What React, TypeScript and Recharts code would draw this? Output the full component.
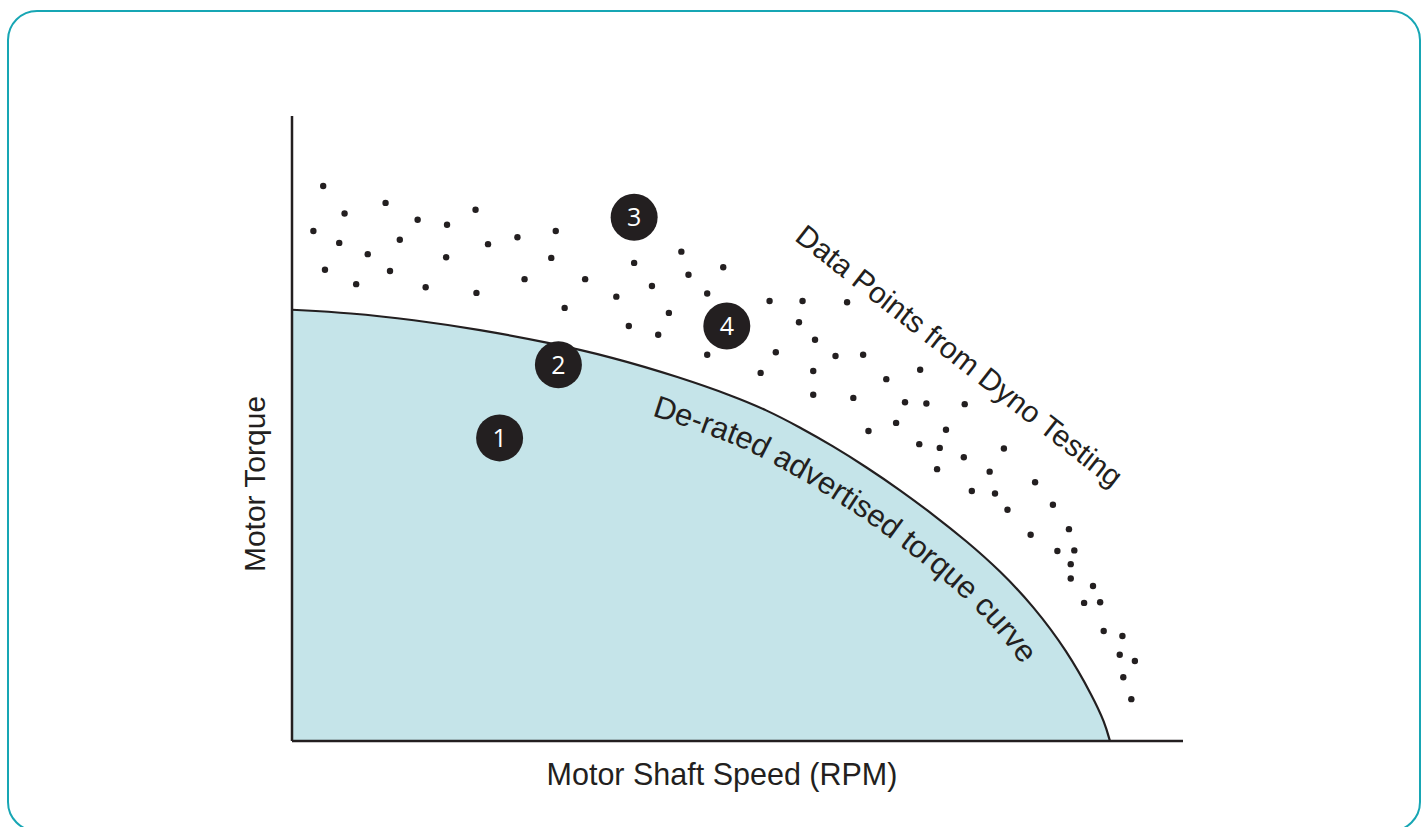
import React from 'react';
import { ComposedChart, Area, Scatter, XAxis, YAxis } from 'recharts';

// de-rated advertised torque curve (speed %, torque %)
const curveSpeed = [
  0, 6.5, 13.6, 21.1, 28.6, 36.0, 43.5, 49.5, 53.2, 57.0, 60.7,
  64.5, 68.2, 71.9, 75.7, 79.5, 83.2, 87.0, 89.9, 91.2, 91.8,
];
const curveTorque = [
  69.0, 68.5, 67.4, 65.8, 63.8, 61.4, 58.2, 55.2, 53.0, 50.2, 47.2,
  43.8, 40.2, 36.3, 32.0, 27.2, 21.6, 14.4, 7.0, 3.0, 0,
];

// dyno test points
const dynoSpeed = [
  3.5, 5.9, 10.5, 2.4, 5.3, 14.1, 17.4, 20.6, 12.1, 8.5, 3.7, 11.0, 7.2, 15.0, 17.3, 22.0, 25.3,
  29.6, 29.1, 26.1, 20.7, 32.9, 30.6, 38.4, 36.4, 40.4, 43.7, 44.5, 48.4, 46.6, 42.3, 37.8, 41.1,
  46.6, 53.6, 57.3, 62.3, 56.9, 58.7, 54.3, 61.0, 64.1, 52.6, 58.5, 70.5, 66.7, 58.5, 63.0, 68.8,
  71.2, 75.5, 67.8, 64.7, 73.4, 70.4, 72.7, 79.9, 75.4, 72.4, 78.3, 83.4, 76.3, 78.9, 80.3, 85.4,
  87.2, 82.9, 85.9, 87.8, 87.4, 87.4, 89.9, 88.9, 90.7, 91.1, 93.2, 92.9, 94.6, 93.3, 94.2,
];
const dynoTorque = [
  88.8, 84.4, 86.1, 81.6, 79.7, 83.4, 82.6, 85.0, 80.2, 77.9, 75.4, 75.2, 73.1, 72.6, 77.4, 79.5, 80.6,
  81.6, 77.3, 73.9, 71.7, 73.9, 69.3, 76.5, 71.1, 72.8, 78.3, 74.6, 75.8, 71.6, 68.5, 66.4, 65.0,
  61.8, 70.4, 70.4, 70.2, 67.0, 64.2, 62.2, 61.6, 61.8, 58.9, 59.2, 59.4, 57.9, 55.4, 54.9, 54.2,
  54.0, 53.9, 50.9, 49.6, 49.8, 47.5, 46.9, 46.8, 45.4, 43.5, 43.1, 41.4, 40.0, 39.6, 37.0, 37.8,
  33.9, 33.0, 30.4, 30.5, 28.3, 26.0, 24.8, 22.1, 22.2, 17.6, 16.8, 13.8, 12.8, 10.2, 6.7,
];

// numbered callouts
const markerIds = ['1', '2', '3', '4'];
const markerSpeed = [23.3, 29.9, 38.4, 48.8];
const markerTorque = [48.5, 60.2, 83.8, 66.4];

const W = 1427;
const H = 827;
const M = { top: 116, right: 244, bottom: 85, left: 291 };
const plotLeft = M.left + 1;
const plotW = W - plotLeft - M.right;
const plotH = H - M.top - M.bottom - 1;
const ink = '#231f20';
const font = '"Liberation Sans", Arial, Helvetica, sans-serif';

const toPx = (x: number) => plotLeft + (x / 100) * plotW;
const toPy = (y: number) => M.top + (1 - y / 100) * plotH;

const curveData = curveSpeed.map((x, i) => ({ x, y: curveTorque[i] }));
const dynoData = dynoSpeed.map((x, i) => ({ x, y: dynoTorque[i] }));
const markerData = markerSpeed.map((x, i) => ({ x, y: markerTorque[i], id: markerIds[i] }));

// path running parallel to the curve, on the inside, for the curved label
function labelPath(dist: number) {
  const pts = curveData.map((d) => [toPx(d.x), toPy(d.y)]);
  const off = pts.map((p, i) => {
    const a = pts[Math.max(0, i - 1)];
    const b = pts[Math.min(pts.length - 1, i + 1)];
    let tx = b[0] - a[0];
    let ty = b[1] - a[1];
    const l = Math.hypot(tx, ty);
    tx /= l;
    ty /= l;
    return [p[0] - ty * dist, p[1] + tx * dist];
  });
  let d = `M${off[0][0]},${off[0][1]}`;
  for (let i = 0; i < off.length - 1; i++) {
    const p0 = off[i - 1] || off[i];
    const p1 = off[i];
    const p2 = off[i + 1];
    const p3 = off[i + 2] || p2;
    const c1 = [p1[0] + (p2[0] - p0[0]) / 6, p1[1] + (p2[1] - p0[1]) / 6];
    const c2 = [p2[0] - (p3[0] - p1[0]) / 6, p2[1] - (p3[1] - p1[1]) / 6];
    d += ` C${c1[0]},${c1[1]} ${c2[0]},${c2[1]} ${p2[0]},${p2[1]}`;
  }
  return d;
}

const Dot = (props: any) => <circle cx={props.cx} cy={props.cy} r={3.2} fill={ink} />;

const Badge = (props: any) => (
  <g>
    <circle cx={props.cx} cy={props.cy} r={23.5} fill={ink} />
    <text
      x={props.cx}
      y={props.cy}
      dy={9}
      textAnchor="middle"
      fill="#fff"
      fontSize={25}
      fontFamily='"Open Sans", sans-serif'
    >
      {props.payload.id}
    </text>
  </g>
);

export default function App() {
  return (
    <div style={{ position: 'fixed', left: 0, top: 0, width: W, height: H, background: '#fff', overflow: 'hidden' }}>
      <div
        style={{
          position: 'absolute',
          left: 7,
          top: 10,
          width: 1414,
          height: 822,
          boxSizing: 'border-box',
          border: '2.5px solid #17a6b4',
          borderRadius: 30,
        }}
      />
      <div style={{ position: 'absolute', left: 0, top: 0 }}>
        <ComposedChart width={W} height={H} data={curveData} margin={M}>
          <Area
            type="basis"
            dataKey="y"
            fill="#c5e4e9"
            fillOpacity={1}
            stroke={ink}
            strokeWidth={2.2}
            dot={false}
            activeDot={false}
            isAnimationActive={false}
          />
          <XAxis
            type="number"
            dataKey="x"
            domain={[0, 100]}
            tick={false}
            tickLine={false}
            height={1}
            axisLine={{ stroke: ink, strokeWidth: 2.5 }}
          />
          <YAxis
            type="number"
            dataKey="y"
            domain={[0, 100]}
            tick={false}
            tickLine={false}
            width={1}
            axisLine={{ stroke: ink, strokeWidth: 2.5 }}
          />
          <Scatter data={dynoData} shape={Dot} isAnimationActive={false} />
          <Scatter data={markerData} shape={Badge} isAnimationActive={false} />
        </ComposedChart>
      </div>
      <svg
        width={W}
        height={H}
        style={{ position: 'absolute', left: 0, top: 0, pointerEvents: 'none', fontFamily: font }}
        fill={ink}
      >
        <defs>
          <path id="curveLabel" d={labelPath(45)} fill="none" />
        </defs>
        <text fontSize={31}>
          <textPath href="#curveLabel" startOffset={368}>
            De-rated advertised torque curve
          </textPath>
        </text>
        <text x={953} y={364} fontSize={30} textAnchor="middle" transform="rotate(38 953 364)">
          Data Points from Dyno Testing
        </text>
        <text x={265} y={484} fontSize={30} textAnchor="middle" transform="rotate(-90 265 484)">
          Motor Torque
        </text>
        <text x={722} y={785} fontSize={30.5} textAnchor="middle">
          Motor Shaft Speed (RPM)
        </text>
      </svg>
    </div>
  );
}
